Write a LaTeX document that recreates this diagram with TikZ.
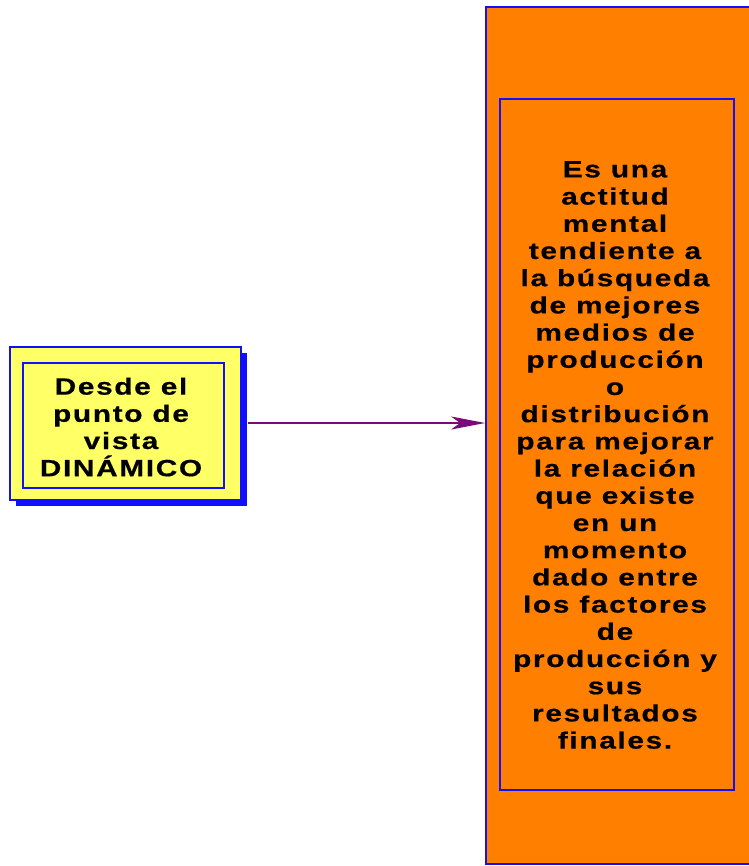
\documentclass[tikz,border=0pt]{standalone}
\usepackage{fontspec}
\setmainfont{Liberation Sans}[LetterSpace=7,FakeStretch=1.27,BoldFeatures={FakeBold=0.5}]
\usetikzlibrary{arrows.meta,shadows}
\definecolor{naranja}{HTML}{FF7F00}
\definecolor{amarillo}{HTML}{FFFF66}
\definecolor{azul}{HTML}{1010FF}
\definecolor{morado}{HTML}{7A0A7A}
\begin{document}
\begin{tikzpicture}[x=1pt,y=-1pt,
  caja/.style={shape=rectangle,draw=azul,inner sep=0pt},
  cajaA/.style={caja,fill=amarillo,line width=1.4pt},
  cajaN/.style={caja,fill=naranja,line width=1.8pt},
  texto/.style={align=center,font=\fontsize{23.5}{27.2}\selectfont\bfseries},
  flecha/.style={draw=morado,line width=1.3pt,-{Stealth[length=34pt,width=13pt,inset=9pt]}}]
\useasboundingbox (0,0) rectangle (748,866);

% caja amarilla
\node[cajaA,minimum width=231,minimum height=153,
  drop shadow={shadow xshift=6pt,shadow yshift=-6pt,fill=azul,opacity=1}] (punto) at (125.5,423.5) {};
\node[cajaA,minimum width=201,minimum height=125] (vista) at (123.5,425.5) {};
\node[texto] (vistaT) at (121,427) {Desde el\\punto de\\vista\\DINÁMICO};

% caja naranja
\node[cajaN,minimum width=274,minimum height=857] (fondo) at (623,435.5) {};
\node[cajaN,minimum width=234,minimum height=691,line width=1.6pt] (def) at (617,444.5) {};
\node[texto] (defT) at (615,455)
  {Es una\\actitud\\mental\\tendiente a\\la búsqueda\\de mejores\\medios de\\producción\\o\\distribución\\para mejorar\\la relación\\que existe\\en un\\momento\\dado entre\\los factores\\de\\producción y\\sus\\resultados\\finales.};

\draw[flecha] ([xshift=6pt]punto.east |- 0,423) -- (fondo.west |- 0,423);
\end{tikzpicture}
\end{document}
